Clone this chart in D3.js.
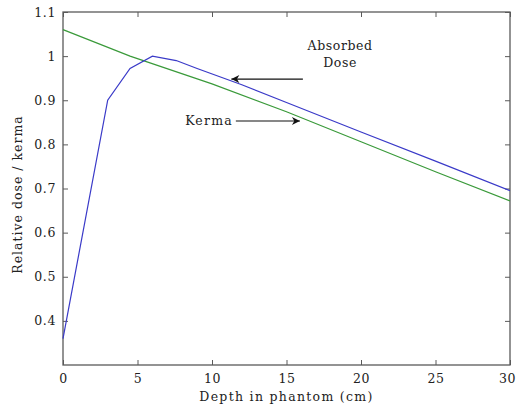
<!DOCTYPE html>
<meta charset="utf-8">
<style>
body { margin: 0; background: #fff; }
svg text { font-family: "DejaVu Serif", serif; font-size: 12.5px; fill: #222; letter-spacing: 0.6px; }
.frame { fill: none; stroke: #5a5a5a; stroke-width: 1.3; }
.tick line { stroke: #5a5a5a; }
.line { fill: none; stroke-width: 1.2px; }
</style>
<body>
<div id="chart"></div>
<script src="https://d3js.org/d3.v7.min.js"></script>
<script>

// depth (cm) and relative values
var doseDepth = [0, 3, 4.5, 6, 7.6, 9, 12, 15, 20, 25, 30];
var doseValue = [0.36, 0.90, 0.972, 1.0, 0.99, 0.972, 0.935, 0.895, 0.828, 0.762, 0.695];
var kermaDepth = [0, 4.5, 10, 15, 20, 25, 30];
var kermaValue = [1.06, 1.0, 0.937, 0.874, 0.806, 0.738, 0.672];
var xTicks = [0, 5, 10, 15, 20, 25, 30];
var yTicks = [0.4, 0.5, 0.6, 0.7, 0.8, 0.9, 1, 1.1];

var chartWidth = 517, chartHeight = 412;
var margin = {top: 12, right: 7, bottom: 47, left: 63},
    width  = chartWidth - margin.left - margin.right,
    height = chartHeight - margin.top - margin.bottom;

var svg = d3.select("#chart").append("svg")
    .attr("width", chartWidth)
    .attr("height", chartHeight)
  .append("g")
    .attr("transform", "translate(" + margin.left + "," + margin.top + ")");

var x = d3.scaleLinear().domain([0, 30]).range([0, width]);
var y = d3.scaleLinear().domain([0.3, 1.1]).range([height, 0]);

// axes, ticks pointing inward like matlab
var fmt = d => d3.format("~g")(d);
svg.append("g").attr("class", "axis")
    .attr("transform", "translate(0," + height + ")")
    .call(d3.axisBottom(x).tickValues(xTicks).tickSizeInner(-5).tickSizeOuter(0).tickPadding(9).tickFormat(fmt))
    .call(g => g.select(".domain").remove())
    // last label sits on the right edge, keep it inside the page
    .call(g => g.selectAll(".tick text").filter(d => d === 30).attr("dx", -3));
svg.append("g").attr("class", "axis")
    .call(d3.axisTop(x).tickValues(xTicks).tickSizeInner(-5).tickSizeOuter(0).tickFormat(""))
    .call(g => g.select(".domain").remove());
svg.append("g").attr("class", "axis")
    .call(d3.axisLeft(y).tickValues(yTicks).tickSizeInner(-5).tickSizeOuter(0).tickPadding(7).tickFormat(fmt))
    .call(g => g.select(".domain").remove());
svg.append("g").attr("class", "axis")
    .attr("transform", "translate(" + width + ",0)")
    .call(d3.axisRight(y).tickValues(yTicks).tickSizeInner(-5).tickSizeOuter(0).tickFormat(""))
    .call(g => g.select(".domain").remove());
svg.selectAll(".axis text").attr("font-size", null).attr("font-family", null);

svg.append("rect").attr("class", "frame")
    .attr("width", width).attr("height", height);

var line = d3.line()
    .x(d => x(d[0]))
    .y(d => y(d[1]));

svg.append("path")
    .datum(d3.zip(kermaDepth, kermaValue))
    .attr("class", "line")
    .attr("stroke", "#3a9a3a")
    .attr("d", line);

svg.append("path")
    .datum(d3.zip(doseDepth, doseValue))
    .attr("class", "line")
    .attr("stroke", "#3a3ac8")
    .attr("d", line);

// labels
svg.append("text")
    .attr("x", width / 2).attr("y", height + 36)
    .attr("text-anchor", "middle")
    .style("letter-spacing", "1.3px")
    .text("Depth in phantom (cm)");

svg.append("text")
    .attr("transform", "translate(-41," + (height / 2 + 6) + ") rotate(-90)")
    .attr("text-anchor", "middle")
    .style("letter-spacing", "1px")
    .text("Relative dose / kerma");

// annotations with arrows
var defs = svg.append("defs");
defs.append("marker")
    .attr("id", "arrow")
    .attr("viewBox", "0 0 10 10")
    .attr("refX", 10).attr("refY", 5)
    .attr("markerWidth", 12).attr("markerHeight", 8)
    .attr("markerUnits", "userSpaceOnUse")
    .attr("orient", "auto")
  .append("path")
    .attr("d", "M0,0 L10,5 L0,10 L3,5 z")
    .attr("fill", "#111");

svg.append("text")
    .attr("x", x(18.6)).attr("y", y(1.015))
    .attr("text-anchor", "middle")
    .text("Absorbed");
svg.append("text")
    .attr("x", x(18.6)).attr("y", y(0.975))
    .attr("text-anchor", "middle")
    .text("Dose");
svg.append("line")
    .attr("x1", x(16.1)).attr("x2", x(11.3))
    .attr("y1", y(0.948)).attr("y2", y(0.948))
    .attr("stroke", "#111").attr("stroke-width", 1.2)
    .attr("marker-end", "url(#arrow)");

svg.append("text")
    .attr("x", x(8.2)).attr("y", y(0.845))
    .style("letter-spacing", "1.2px")
    .text("Kerma");
svg.append("line")
    .attr("x1", x(11.6)).attr("x2", x(15.9))
    .attr("y1", y(0.853)).attr("y2", y(0.853))
    .attr("stroke", "#111").attr("stroke-width", 1.2)
    .attr("marker-end", "url(#arrow)");

</script>
